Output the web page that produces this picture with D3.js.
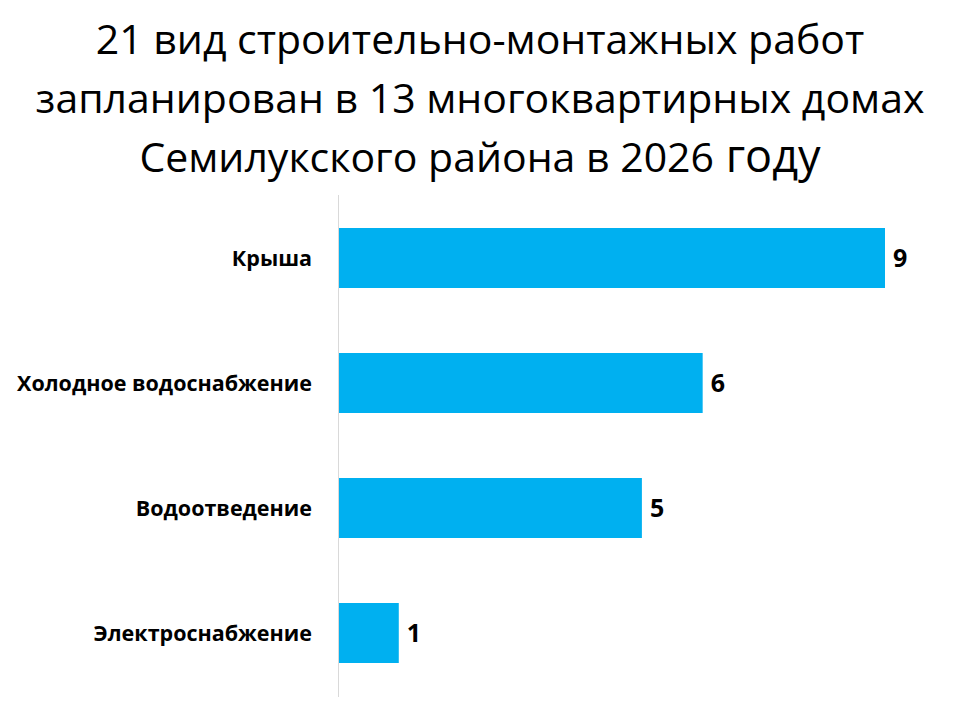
<!DOCTYPE html>
<html>
<head>
<meta charset="utf-8">
<script src="https://cdn.jsdelivr.net/npm/d3@7"></script>
<style>
  body { margin: 0; background: #fff; }
  text { font-family: "Open Sans", "Noto Sans", sans-serif; }
</style>
</head>
<body>
<div id="chart"></div>
<script>
const categories = ["Крыша", "Холодное водоснабжение", "Водоотведение", "Электроснабжение"];
const values = [9, 6, 5, 1];
const titleLines = [
  "21 вид строительно-монтажных работ",
  "запланирован в 13 многоквартирных домах",
  "Семилукского района в 2026"
];

const width = 960, height = 720;

const svg = d3.select("#chart")
  .append("svg")
  .attr("width", width)
  .attr("height", height);

// title
const title = svg.append("text")
  .attr("text-anchor", "middle")
  .attr("fill", "#000")
  .attr("font-size", 41);

titleLines.forEach((t, i) => {
  title.append("tspan")
    .attr("x", 480)
    .attr("y", 54 + i * 59)
    .text(t);
  if (i === titleLines.length - 1) {
    title.append("tspan").attr("font-size", 45).text(" году");
  }
});

const x = d3.scaleLinear()
  .domain([0, 9])
  .range([338, 885]);

const y = d3.scaleBand()
  .domain(categories)
  .range([195.5, 695.5])
  .paddingInner(0.52)
  .paddingOuter(0.26);

// axis line
svg.append("line")
  .attr("x1", 338.5).attr("x2", 338.5)
  .attr("y1", 195).attr("y2", 697)
  .attr("stroke", "#d9d9d9")
  .attr("stroke-width", 1);

svg.selectAll(".bar")
  .data(categories)
  .enter()
  .append("rect")
  .attr("x", x(0) + 1)
  .attr("y", d => y(d))
  .attr("width", (d, i) => x(values[i]) - x(0) - 1)
  .attr("height", y.bandwidth())
  .attr("fill", "#00b0f0");

// category labels
svg.selectAll(".cat")
  .data(categories)
  .enter()
  .append("text")
  .attr("x", 312)
  .attr("y", d => y(d) + y.bandwidth() / 2)
  .attr("dy", "0.35em")
  .attr("text-anchor", "end")
  .attr("font-size", 21.5)
  .attr("font-weight", "bold")
  .text(d => d);

// value labels
svg.selectAll(".val")
  .data(categories)
  .enter()
  .append("text")
  .attr("x", (d, i) => x(values[i]) + 8)
  .attr("y", d => y(d) + y.bandwidth() / 2)
  .attr("dy", "0.35em")
  .attr("font-size", 25)
  .attr("font-weight", "bold")
  .text((d, i) => values[i]);
</script>
</body>
</html>
